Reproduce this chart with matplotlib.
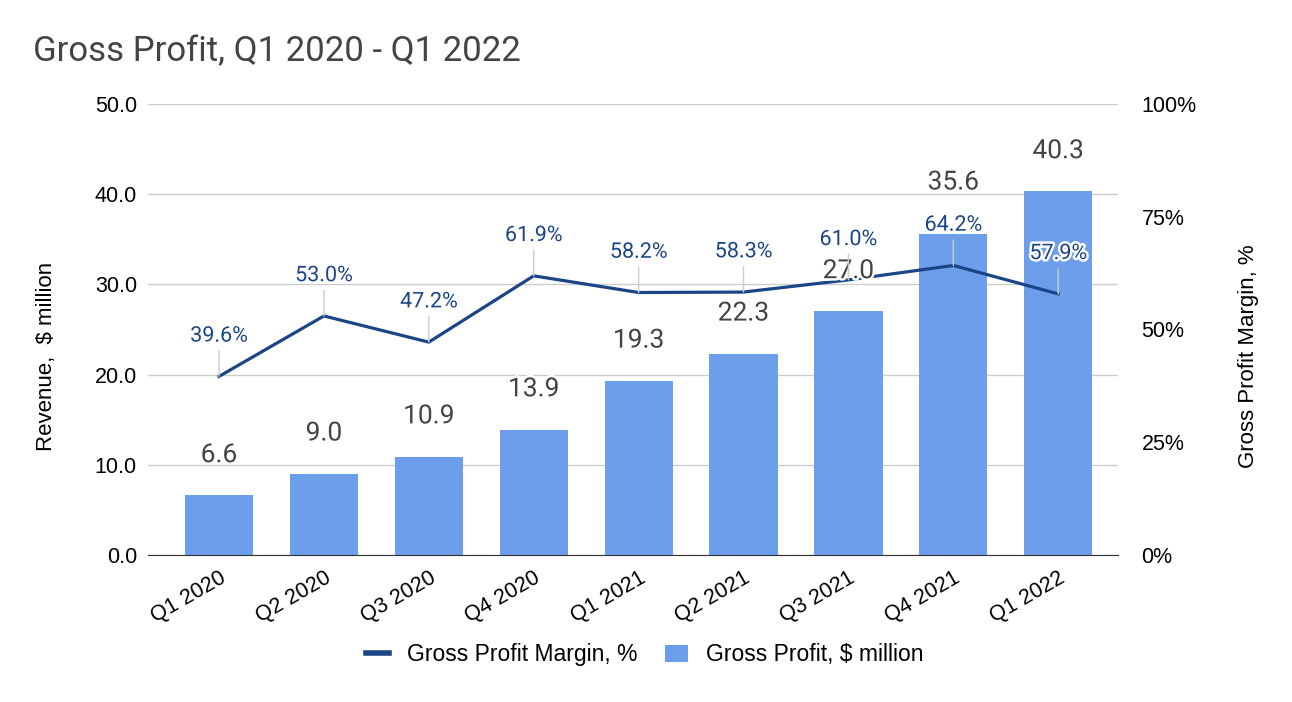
import matplotlib
matplotlib.use('Agg')
import matplotlib.pyplot as plt
import matplotlib.patheffects as pe
import matplotlib.transforms as mtransforms
from matplotlib.lines import Line2D
from matplotlib.patches import Patch
import numpy as np

quarters = ['Q1 2020', 'Q2 2020', 'Q3 2020', 'Q4 2020', 'Q1 2021',
            'Q2 2021', 'Q3 2021', 'Q4 2021', 'Q1 2022']
gross_profit = [6.6, 9.0, 10.9, 13.9, 19.3, 22.3, 27.0, 35.6, 40.3]
margin_pct = [39.6, 53.0, 47.2, 61.9, 58.2, 58.3, 61.0, 64.2, 57.9]
left_ticks = [0, 10, 20, 30, 40, 50]
right_ticks = [0, 25, 50, 75, 100]

bar_color = '#6d9eeb'
line_color = '#1c4587'
tick_font = 'Liberation Sans'
label_font = 'Roboto'

fig = plt.figure(figsize=(12.92, 7.02), dpi=100)
ax = fig.add_axes([148/1292, 1-555/702, 970/1292, 451/702])
ax2 = ax.twinx()

x = np.arange(len(quarters))
ax.bar(x, gross_profit, width=0.65, color=bar_color, zorder=2)
ax.set_ylim(0, 50)
ax.set_xlim(-0.677, 8.57)
ax.set_yticks(left_ticks)
ax.set_yticklabels(['%.1f' % t for t in left_ticks], fontsize=15.5, family=tick_font)
ax.grid(axis='y', color='#cccccc', lw=1, zorder=0)
ax.set_axisbelow(True)
ax.set_xticks(x)
ax.set_xticklabels(quarters, rotation=30, ha='right', rotation_mode='anchor',
                   fontsize=15.5, family=tick_font)
shift = mtransforms.ScaledTranslation(6/100, 0, fig.dpi_scale_trans)
for lbl in ax.get_xticklabels():
    lbl.set_transform(lbl.get_transform() + shift)
ax.tick_params(axis='y', length=0, pad=8)
ax.tick_params(axis='x', length=0, pad=9)
for s in ['top', 'left', 'right']:
    ax.spines[s].set_visible(False)
ax.spines['bottom'].set_color('#333333')
ax.set_ylabel('Revenue,  $ million', fontsize=16, family=tick_font)
ax.yaxis.set_label_coords(-0.094, 0.44)

ax2.plot(x, margin_pct, color=line_color, lw=2.3, zorder=3)
ax2.set_ylim(0, 100)
ax2.set_yticks(right_ticks)
ax2.set_yticklabels(['%d%%' % t for t in right_ticks], fontsize=15.5, family=tick_font)
ax2.tick_params(axis='y', length=0, pad=17)
for s in ['top', 'left', 'right', 'bottom']:
    ax2.spines[s].set_visible(False)
ax2.set_ylabel('Gross Profit Margin, %', fontsize=16, family=tick_font)
ax2.yaxis.set_label_coords(1.124, 0.44)

halo = [pe.withStroke(linewidth=3.5, foreground='white')]

# bar value labels (on ax2 so they sit over the line)
for i, v in enumerate(gross_profit):
    off = 37 if i == 7 else 29
    ax2.annotate('%.1f' % v, xy=(i, v), xycoords=ax.transData,
                 xytext=(0, off), textcoords='offset points',
                 ha='center', va='center', fontsize=19, family=label_font,
                 color='#444444', path_effects=halo, zorder=5)

# margin labels with leader lines
for i, m in enumerate(margin_pct):
    ax2.annotate('%.1f%%' % m, xy=(i, m), xytext=(0, 29), textcoords='offset points',
                 ha='center', va='center', fontsize=15.5, family=label_font,
                 color=line_color, path_effects=halo, zorder=6,
                 arrowprops=dict(arrowstyle='-', color='#cccccc', lw=1,
                                 shrinkA=1, shrinkB=0))

fig.text(33/1292, 1-52/702, 'Gross Profit, Q1 2020 - Q1 2022', fontsize=25,
         family=label_font, color='#444444', va='center')

handles = [Line2D([0], [0], color=line_color, lw=4),
           Patch(facecolor=bar_color)]
fig.legend(handles, ['Gross Profit Margin, %', 'Gross Profit, $ million'],
           loc='center', bbox_to_anchor=(645/1292, 1-655/702), ncol=2,
           frameon=False, prop={'family': tick_font, 'size': 16.5},
           handlelength=1.0, columnspacing=1.2, handletextpad=0.8)

fig.savefig('out.png', dpi=100)
